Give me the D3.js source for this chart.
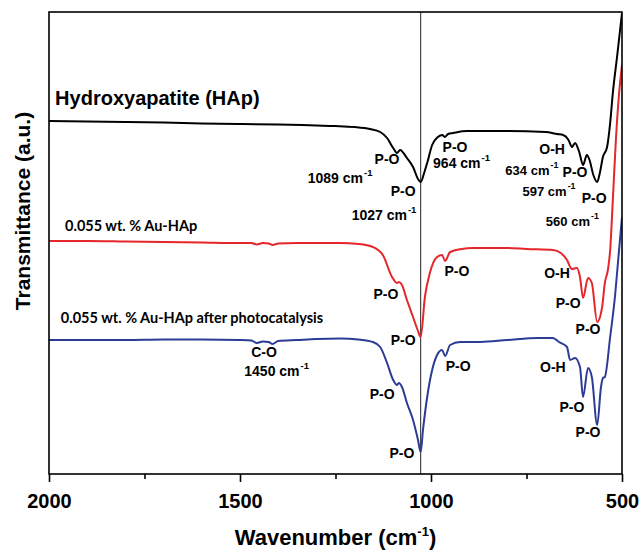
<!DOCTYPE html>
<html><head><meta charset="utf-8">
<script src="https://cdn.jsdelivr.net/npm/d3@7"></script>
<style>body{margin:0;background:#fff}</style>
</head><body>
<svg id="c" width="641" height="550"></svg>
<script>
// ---- data (wavenumber cm^-1, transmittance a.u.) ----
const hapWn = [2000,1900,1800,1700,1600,1500,1400,1300,1250,1200,1160,1133,1115,1099,1089,1081,1063,1047,1034,1027,1018,1010,997,982,970,964,955,942,906,800,700,670,654,640,631,623,612,602,592,585,575,565,558,550,539,531,524,513,500];
const hapT  = [345,344.5,344,343.5,342.5,342,341.5,340.5,340,339,337,334,328,318,313,316,308,299,287,284,293,303,321,329,331,329,332,333,335,335,334,332,331,326,319,323,314,301,311,306,291,284,293,309,319,343,373,409,453];
const auWn  = [2000,1900,1800,1700,1600,1500,1470,1456,1440,1425,1415,1400,1350,1300,1238,1190,1152,1126,1102,1089,1084,1076,1063,1047,1035,1027,1016,1003,984,971,963,950,920,890,850,800,750,681,660,644,631,618,610,602,589,579,565,552,545,537,531,524,516,508,500];
const auT   = [225,225,224.5,224,223.5,223,223,221.5,223,222.5,221,222.5,223,223,223,222,219,211,189,183,184,181,166,149,136,129,169,193,209,211,205,214,217,218,218,218,217,216,213,206,197,198,189,168,188,183,144,159,183,196,216,266,326,371,401];
const photoWn = [2000,1900,1800,1700,1600,1500,1470,1456,1440,1425,1415,1400,1350,1300,1238,1190,1152,1133,1115,1099,1089,1084,1076,1063,1047,1034,1027,1021,1010,997,984,971,963,950,924,870,800,720,681,665,644,636,623,610,602,589,579,565,555,550,545,531,518,510,500];
const photoT  = [126,126,126,126.5,126.5,126,125.5,123,124.5,124,122,125,126,127,127.5,126.5,124,119,103,86,81,83,79,63,46,26,14,36,69,96,111,116,110,121,124,124,126,128,128,124,119,106,108,99,69,98,89,41,79,88,89,129,171,206,249];

const seriesNames  = ["Hydroxyapatite (HAp)", "0.055 wt. % Au-HAp", "0.055 wt. % Au-HAp after photocatalysis"];
const seriesColors = ["#000000", "#e5262a", "#2c3c96"];
const xTickValues = [2000, 1500, 1000, 500];
const xMinorTicks = [1750, 1250, 750];
const markerWn = 1027;

// annotations: [text, superscript, wavenumber, a.u., size]
const annotations = [
  ["P-O", "", 1115, 302, 14], ["1089 cm", "-1", 1238, 283, 14],
  ["P-O", "", 1073, 270, 14], ["1027 cm", "-1", 1123, 246, 14],
  ["P-O", "", 937, 314, 14], ["964 cm", "-1", 920, 298, 14],
  ["O-H", "", 683, 312, 14], ["634 cm", "-1", 736, 291, 13],
  ["P-O", "", 623, 289, 14], ["597 cm", "-1", 691, 270, 13],
  ["P-O", "", 573, 263, 14], ["560 cm", "-1", 630, 240, 13],
  ["P-O", "", 1118, 167, 14], ["P-O", "", 1073, 121, 14], ["P-O", "", 932, 190, 14],
  ["O-H", "", 670, 188, 14], ["P-O", "", 641, 158, 14], ["P-O", "", 589, 132, 14],
  ["P-O", "", 1128, 67, 14], ["P-O", "", 1076, 8, 14], ["P-O", "", 929, 95, 14],
  ["O-H", "", 681, 94, 14], ["P-O", "", 631, 54, 14], ["P-O", "", 589, 29, 14],
  ["C-O", "", 1437, 109, 14], ["1450 cm", "-1", 1404, 90, 14]
];
// series label anchors [wavenumber, a.u.]
const seriesLabelPos = [[1984, 361], [1958, 235], [1969, 143]];

// ---- drawing ----
const svg = d3.select("#c");
const L = 49, R = 622, T = 12, B = 474;
const x = d3.scaleLinear().domain([2000, 500]).range([L, R]);
const y = d3.scaleLinear().domain([-8, 454]).range([B, T]);
const arial = "'Liberation Sans', Arial, sans-serif";

const series = [
  {wn: hapWn, t: hapT}, {wn: auWn, t: auT}, {wn: photoWn, t: photoT}
];

const line = d3.line().x(d => x(d[0])).y(d => y(d[1])).curve(d3.curveMonotoneX);

const clip = svg.append("clipPath").attr("id", "pc").append("rect")
  .attr("x", L).attr("y", T).attr("width", R - L).attr("height", B - T);

// marker line
svg.append("line").attr("x1", x(markerWn)).attr("x2", x(markerWn))
  .attr("y1", T).attr("y2", B).attr("stroke", "#222").attr("stroke-width", 1);

series.forEach((s, i) => {
  const pts = s.wn.map((w, j) => [w, s.t[j]]);
  svg.append("path").attr("d", line(pts)).attr("fill", "none")
    .attr("stroke", seriesColors[i]).attr("stroke-width", 2)
    .attr("stroke-linejoin", "round").attr("clip-path", "url(#pc)");
});

// frame
svg.append("rect").attr("x", L).attr("y", T).attr("width", R - L).attr("height", B - T)
  .attr("fill", "none").attr("stroke", "#000").attr("stroke-width", 1.6);

// x axis
const ax = svg.append("g").attr("transform", `translate(0,${B})`)
  .call(d3.axisBottom(x).tickValues(xTickValues).tickSize(8).tickPadding(12).tickFormat(d3.format("d")));
ax.select(".domain").remove();
ax.selectAll(".tick line").attr("stroke", "#000").attr("stroke-width", 1.6);
ax.selectAll(".tick text").attr("font-family", arial).attr("font-weight", "bold")
  .attr("font-size", 20).attr("fill", "#000");
const axm = svg.append("g").attr("transform", `translate(0,${B})`)
  .call(d3.axisBottom(x).tickValues(xMinorTicks).tickSize(5).tickFormat(""));
axm.select(".domain").remove();
axm.selectAll(".tick line").attr("stroke", "#000").attr("stroke-width", 1.6);

// axis titles
const xt = svg.append("text").attr("x", (L + R) / 2).attr("y", 545).attr("text-anchor", "middle")
  .attr("font-family", arial).attr("font-weight", "bold").attr("font-size", 22);
xt.append("tspan").text("Wavenumber (cm");
xt.append("tspan").attr("font-size", 13).attr("dy", -9).text("-1");
xt.append("tspan").attr("dy", 9).text(")");

svg.append("text").attr("transform", "translate(30,211) rotate(-90)").attr("text-anchor", "middle")
  .attr("font-family", arial).attr("font-weight", "bold").attr("font-size", 21)
  .text("Transmittance (a.u.)");

// series labels
seriesNames.forEach((n, i) => {
  const p = seriesLabelPos[i];
  svg.append("text").attr("x", x(p[0])).attr("y", y(p[1]))
    .attr("font-family", i === 0 ? arial : "Lato, 'Open Sans', sans-serif")
    .attr("font-weight", "bold").attr("font-size", i === 0 ? 20 : 14.5)
    .attr("fill", "#000").text(n);
});

// annotations
annotations.forEach(a => {
  const t = svg.append("text").attr("x", x(a[2])).attr("y", y(a[3]))
    .attr("text-anchor", "middle").attr("font-family", arial)
    .attr("font-weight", "bold").attr("font-size", a[4]).attr("fill", "#000");
  t.append("tspan").text(a[0]);
  if (a[1]) t.append("tspan").attr("font-size", a[4] * 0.68).attr("dy", -7).attr("dx", 1).text(a[1]);
});
</script>
</body></html>
